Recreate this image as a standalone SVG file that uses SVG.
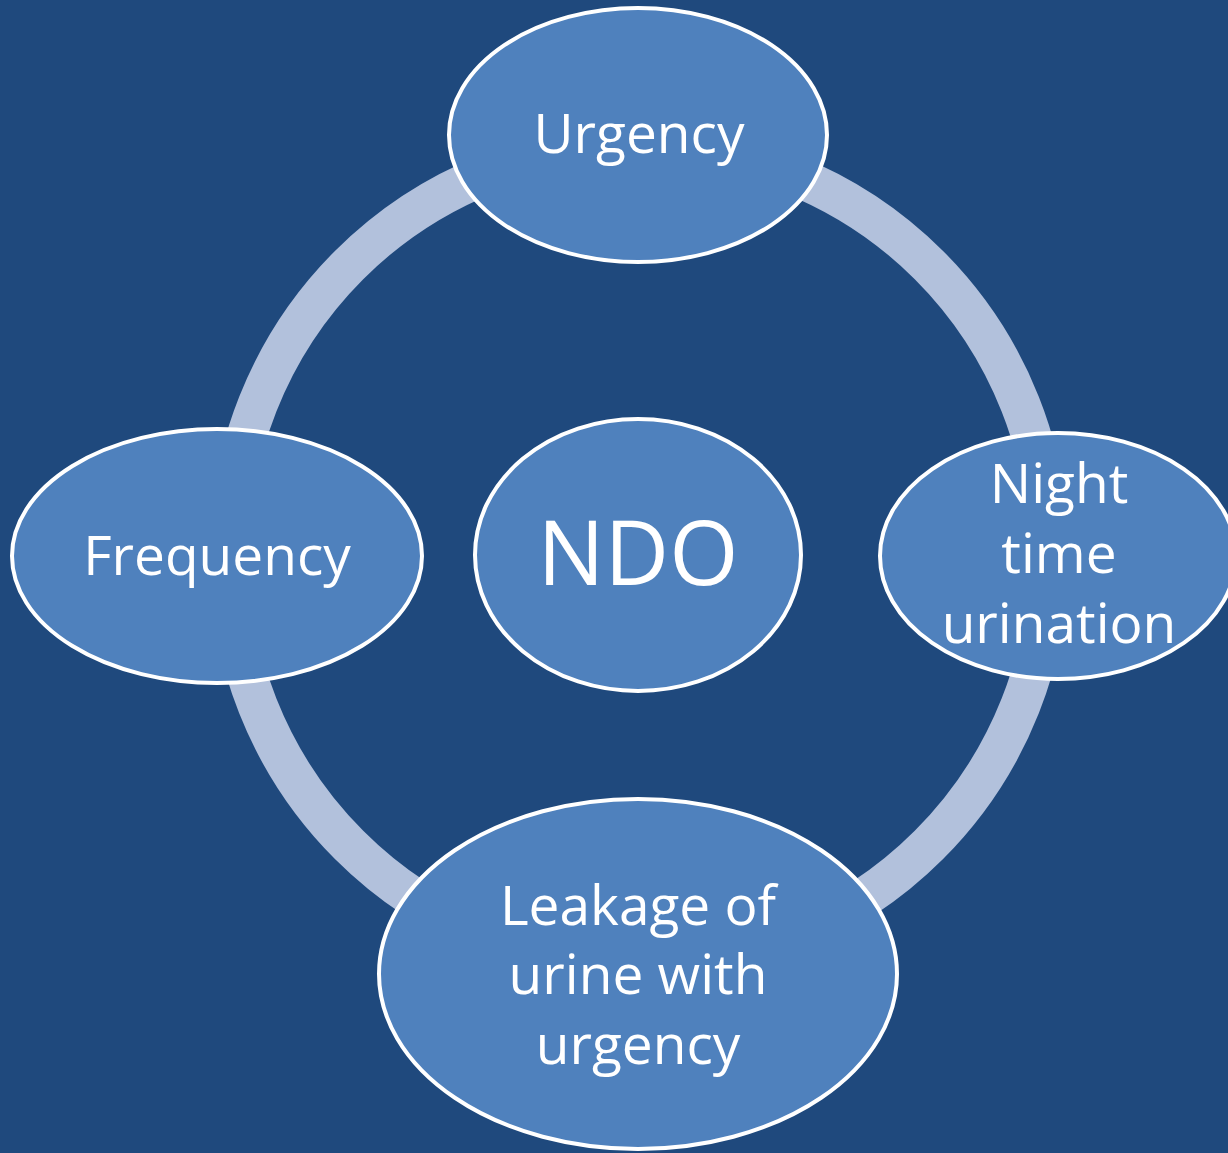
<svg xmlns="http://www.w3.org/2000/svg" width="1228" height="1153" viewBox="0 0 1228 1153">
<style>
.node{fill:#4F81BD;stroke:#FFFFFF;stroke-width:4}
.lbl{font-family:"Open Sans","Liberation Sans",sans-serif;font-size:55px;fill:#FFFFFF;text-anchor:middle}
.big{font-size:89px}
</style>
<rect x="0" y="0" width="1228" height="1153" fill="#1F497D"/>
<g id="connectors">
<circle cx="639" cy="555" r="410" fill="none" stroke="#B2C1DC" stroke-width="40"/>
</g>
<g id="node-urgency">
<ellipse class="node" cx="638" cy="135" rx="189" ry="127"/>
<text class="lbl" x="639" y="153">Urgency</text>
</g>
<g id="node-frequency">
<ellipse class="node" cx="217" cy="556" rx="205" ry="127"/>
<text class="lbl" x="217" y="575">Frequency</text>
</g>
<g id="node-ndo">
<ellipse class="node" cx="638" cy="555" rx="163" ry="136"/>
<text class="lbl big" x="638" y="585">NDO</text>
</g>
<g id="node-night">
<ellipse class="node" cx="1058" cy="556" rx="178" ry="123"/>
<text class="lbl" x="1059" y="503">Night</text>
<text class="lbl" x="1059" y="573">time</text>
<text class="lbl" x="1059" y="643">urination</text>
</g>
<g id="node-leakage">
<ellipse class="node" cx="638" cy="974" rx="259" ry="175"/>
<text class="lbl" x="638" y="925">Leakage of</text>
<text class="lbl" x="638" y="994">urine with</text>
<text class="lbl" x="638" y="1064">urgency</text>
</g>
</svg>
